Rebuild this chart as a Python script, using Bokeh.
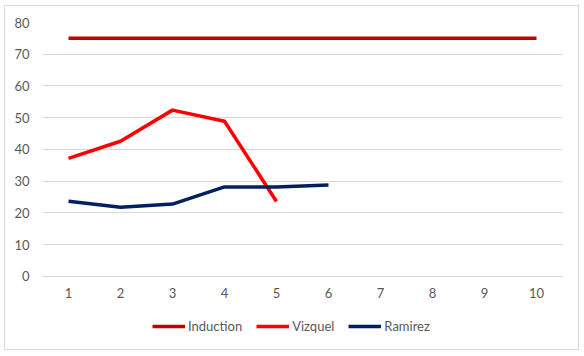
from bokeh.plotting import figure
from bokeh.models import Range1d, FixedTicker, Legend, LegendItem
from bokeh.embed import file_html
from bokeh.resources import INLINE

categories = [1, 2, 3, 4, 5, 6, 7, 8, 9, 10]
induction = [75, 75, 75, 75, 75, 75, 75, 75, 75, 75]
vizquel_x = [1, 2, 3, 4, 5]
vizquel = [37.2, 42.6, 52.4, 48.9, 23.6]
ramirez_x = [1, 2, 3, 4, 5, 6]
ramirez = [23.7, 21.8, 22.8, 28.2, 28.2, 28.8]
y_ticks = [0, 10, 20, 30, 40, 50, 60, 70, 80]

FONT = "Lato"
GRAY = "#595959"
GRID = "#d9d9d9"

p = figure(
    output_backend="svg", toolbar_location=None,
    frame_width=520, frame_height=327,
    min_border_left=37, min_border_right=16, min_border_top=16, min_border_bottom=0,
    x_range=Range1d(0.5, 10.5), y_range=Range1d(-23, 80),
)
p.styles = {"border": "1px solid #d9d9d9", "margin-left": "4px", "margin-top": "5px"}
p.outline_line_color = None
p.background_fill_color = "white"
p.border_fill_color = "white"

p.xgrid.grid_line_color = None
p.ygrid.grid_line_color = GRID
p.ygrid.grid_line_width = 1

p.yaxis.ticker = FixedTicker(ticks=y_ticks)
p.xaxis.ticker = FixedTicker(ticks=categories)
p.xaxis.fixed_location = 0
p.yaxis.axis_line_color = None
p.yaxis.major_tick_line_color = None
p.yaxis.minor_tick_line_color = None
p.xaxis.axis_line_color = GRID
p.xaxis.major_tick_line_color = None
p.xaxis.minor_tick_line_color = None
p.xaxis.major_tick_out = 0
p.xaxis.major_tick_in = 0
p.xaxis.minor_tick_out = 0
p.yaxis.major_tick_out = 0
p.yaxis.minor_tick_out = 0
for ax in (p.xaxis, p.yaxis):
    ax.major_label_text_font = FONT
    ax.major_label_text_font_size = "13px"
    ax.major_label_text_color = GRAY
p.yaxis.major_label_standoff = 13
p.xaxis.major_label_standoff = 12

r1 = p.line(categories, induction, line_color="#C00000", line_width=3.5)
r2 = p.line(vizquel_x, vizquel, line_color="#FF0000", line_width=3.5, line_join="round")
r3 = p.line(ramirez_x, ramirez, line_color="#002060", line_width=3.5, line_join="round")

legend = Legend(
    items=[LegendItem(label="Induction", renderers=[r1]),
           LegendItem(label="Vizquel", renderers=[r2]),
           LegendItem(label="Ramirez", renderers=[r3])],
    orientation="horizontal", location=(110, 13),
    border_line_color=None, background_fill_alpha=0,
    padding=0, margin=0, spacing=14, label_standoff=3,
    glyph_width=33, glyph_height=20, label_height=20,
    label_text_font=FONT, label_text_font_size="13px", label_text_color=GRAY,
)
p.add_layout(legend, "center")

open("out.html", "w").write(file_html(p, INLINE))
